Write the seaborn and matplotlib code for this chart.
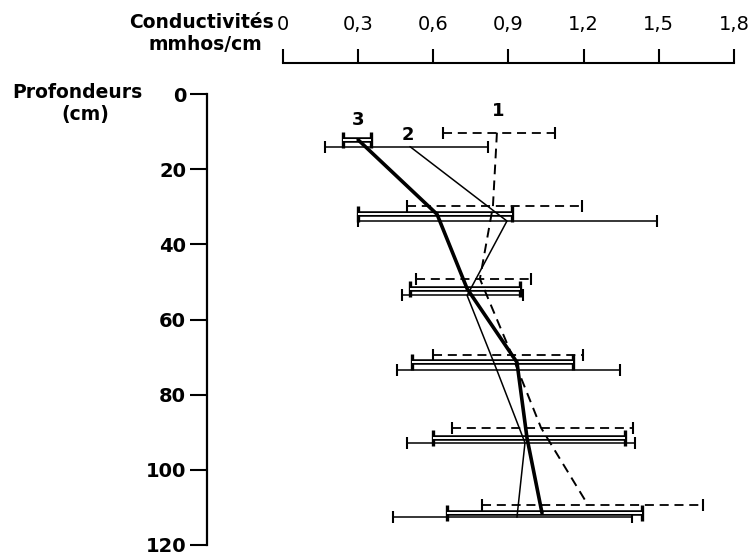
import matplotlib
matplotlib.use("Agg")
import matplotlib.pyplot as plt
import seaborn as sns
import pandas as pd

# ---- data (conductivity in mmhos/cm, depth in cm) ----
s1_depth = [10.3, 29.9, 49.2, 69.5, 88.8, 109.4]
s1_mean = [0.854, 0.838, 0.786, 0.914, 1.03, 1.218]
s1_low = [0.639, 0.495, 0.531, 0.599, 0.675, 0.794]
s1_high = [1.086, 1.194, 0.990, 1.198, 1.397, 1.677]

s2_depth = [14.0, 33.8, 53.6, 73.5, 92.8, 112.6]
s2_mean = [0.507, 0.894, 0.735, 0.854, 0.966, 0.934]
s2_low = [0.168, 0.299, 0.475, 0.455, 0.495, 0.439]
s2_high = [0.818, 1.493, 0.958, 1.345, 1.405, 1.393]

s3_depth = [12.2, 32.0, 51.8, 71.4, 91.5, 111.5]
s3_mean = [0.30, 0.615, 0.735, 0.934, 0.974, 1.034]
s3_low = [0.24, 0.299, 0.507, 0.515, 0.599, 0.655]
s3_high = [0.351, 0.914, 0.946, 1.158, 1.365, 1.433]

x_ticks = [0, 0.3, 0.6, 0.9, 1.2, 1.5, 1.8]
x_tick_labels = ["0", "0,3", "0,6", "0,9", "1,2", "1,5", "1,8"]
y_ticks = [0, 20, 40, 60, 80, 100, 120]
series_labels = ["1", "2", "3"]

sns.set_style("white")
plt.rcParams["font.family"] = ["DejaVu Sans"]
plt.rcParams["text.color"] = "black"
plt.rcParams["xtick.color"] = "black"
plt.rcParams["ytick.color"] = "black"

W, H = 751, 556
fig = plt.figure(figsize=(W / 100, H / 100), dpi=100)

def px2u(x):
    return (x - 283) / 250.5

x_left, x_right = 207, 734
y_top, y_bot = 94, 545
ax = fig.add_axes([x_left / W, (H - y_bot) / H, (x_right - x_left) / W, (y_bot - y_top) / H])
ax.set_xlim(px2u(x_left), px2u(x_right))
ax.set_ylim(120, 0)
ax.patch.set_alpha(0)

def frame(depth, mean, low, high):
    return pd.DataFrame({"depth": depth, "mean": mean, "low": low, "high": high})

d1 = frame(s1_depth, s1_mean, s1_low, s1_high)
d2 = frame(s2_depth, s2_mean, s2_low, s2_high)
d3 = frame(s3_depth, s3_mean, s3_low, s3_high)

dash = (0, (5, 3.2))

# error bars
def bars(d, lw, cap, cthick, ls=None, hollow=False):
    eb = ax.errorbar(d["mean"], d["depth"],
                     xerr=[d["mean"] - d["low"], d["high"] - d["mean"]],
                     fmt="none", ecolor="black", elinewidth=lw,
                     capsize=cap, capthick=cthick, zorder=2)
    if ls is not None:
        eb.lines[2][0].set_linestyle(ls)
    if hollow:
        ax.hlines(d["depth"], d["low"], d["high"], colors="white", linewidth=lw * 0.35, zorder=2.5)
    return eb

bars(d1, 1.3, 4.5, 1.5, ls=dash)
bars(d2, 1.1, 4.5, 1.5)
bars(d3, 4.0, 5.5, 2.4, hollow=True)

# mean profiles
sns.lineplot(data=d1, x="mean", y="depth", sort=False, estimator=None, color="black",
             linewidth=1.4, linestyle=dash, ax=ax, zorder=3)
sns.lineplot(data=d2, x="mean", y="depth", sort=False, estimator=None, color="black",
             linewidth=1.1, ax=ax, zorder=3)
sns.lineplot(data=d3, x="mean", y="depth", sort=False, estimator=None, color="black",
             linewidth=2.6, ax=ax, zorder=3)

ax.set_xlabel("")
ax.set_ylabel("")

# series labels
ax.text(0.30, 6.9, series_labels[2], ha="center", va="center", fontsize=13, fontweight="bold")
ax.text(0.50, 10.8, series_labels[1], ha="center", va="center", fontsize=13, fontweight="bold")
ax.text(0.858, 4.6, series_labels[0], ha="center", va="center", fontsize=13, fontweight="bold")

# left (depth) axis
for s in ["top", "right", "bottom"]:
    ax.spines[s].set_visible(False)
ax.spines["left"].set_linewidth(1.6)
ax.spines["left"].set_color("black")
ax.spines["left"].set_bounds(0, 120)
ax.set_xticks([])
ax.set_yticks(y_ticks)
ax.set_yticklabels([str(v) for v in y_ticks])
ax.tick_params(axis="y", left=True, direction="out", length=12, width=1.5, pad=3,
               labelsize=14, colors="black")
for lbl in ax.get_yticklabels():
    lbl.set_fontweight("bold")

# top (conductivity) scale
y_scale = 63
ax2 = fig.add_axes([x_left / W, (H - y_scale) / H - 0.01, (x_right - x_left) / W, 0.01])
ax2.set_xlim(ax.get_xlim())
ax2.patch.set_alpha(0)
for s in ["left", "right", "bottom"]:
    ax2.spines[s].set_visible(False)
ax2.spines["top"].set_bounds(0, 1.8)
ax2.spines["top"].set_linewidth(1.5)
ax2.spines["top"].set_color("black")
ax2.set_yticks([])
ax2.xaxis.set_ticks_position("top")
ax2.xaxis.set_label_position("top")
ax2.set_xticks(x_ticks)
ax2.set_xticklabels(x_tick_labels)
ax2.tick_params(axis="x", top=True, bottom=False, direction="out", length=10, width=1.5,
                pad=11, labelsize=14, colors="black")

# axis titles
fig.text(201 / W, 1 - 22 / H, "Conductivités", ha="center", va="center",
         fontsize=13.5, fontweight="bold")
fig.text(205 / W, 1 - 44 / H, "mmhos/cm", ha="center", va="center",
         fontsize=13.5, fontweight="bold")
fig.text(142 / W, 1 - 92 / H, "Profondeurs", ha="right", va="center",
         fontsize=13.5, fontweight="bold")
fig.text(85 / W, 1 - 114 / H, "(cm)", ha="center", va="center",
         fontsize=13.5, fontweight="bold")

fig.savefig("out.png", dpi=100, facecolor="white")
